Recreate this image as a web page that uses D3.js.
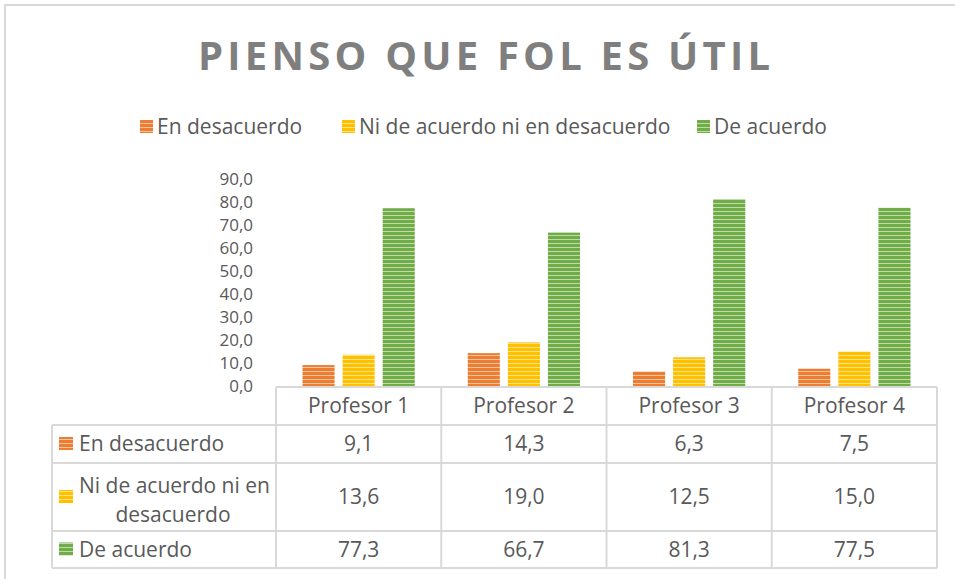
<!DOCTYPE html>
<html>
<head>
<meta charset="utf-8">
<script src="https://cdn.jsdelivr.net/npm/d3@7"></script>
<style>
    body { margin: 0; background: #ffffff; }
    svg { display: block; font-family: "Open Sans", sans-serif; }
</style>
</head>
<body>
<svg id="svg"></svg>
<script>
// Chart data
const categories = ["Profesor 1", "Profesor 2", "Profesor 3", "Profesor 4"];
const seriesNames = ["En desacuerdo", "Ni de acuerdo ni en desacuerdo", "De acuerdo"];
const enDesacuerdo = [9.1, 14.3, 6.3, 7.5];
const niNi = [13.6, 19.0, 12.5, 15.0];
const deAcuerdo = [77.3, 66.7, 81.3, 77.5];
const yTicks = [0, 10, 20, 30, 40, 50, 60, 70, 80, 90];
const colors = ["#ED7D31", "#FFC000", "#70AD47"];

const seriesValues = [enDesacuerdo, niNi, deAcuerdo];

// SVG size
let width = 955, height = 579;
const textColor = "#595959";
const lineColor = "#d9d9d9";
const fontSize = 21;

const svg = d3.select("#svg").attr("width", width).attr("height", height);

// Striped fill patterns
const defs = svg.append("defs");
colors.forEach((c, i) => {
    const p = defs.append("pattern")
        .attr("id", "stripe" + i)
        .attr("patternUnits", "userSpaceOnUse")
        .attr("width", 8)
        .attr("height", 4);
    p.append("rect").attr("width", 8).attr("height", 4).attr("fill", c);
    p.append("rect").attr("y", 3).attr("width", 8).attr("height", 1)
        .attr("fill", "#ffffff").attr("opacity", 0.55);
});

// Outer border
svg.append("rect")
    .attr("x", 5).attr("y", 5)
    .attr("width", width).attr("height", height)
    .attr("fill", "none")
    .attr("stroke", lineColor)
    .attr("stroke-width", 2);

// Title
svg.append("text")
    .attr("x", 484).attr("y", 70)
    .attr("text-anchor", "middle")
    .attr("font-size", 40)
    .attr("font-weight", "bold")
    .attr("fill", "#7f7f7f")
    .attr("textLength", 572)
    .attr("lengthAdjust", "spacing")
    .text("PIENSO QUE FOL ES ÚTIL");

// Legend
const legendX = [140, 342, 697];
seriesNames.forEach((name, i) => {
    const g = svg.append("g").attr("transform", "translate(" + legendX[i] + ",120)");
    g.append("rect").attr("width", 13).attr("height", 13).attr("fill", "url(#stripe" + i + ")");
    g.append("text")
        .attr("x", 17).attr("y", 14)
        .attr("font-size", fontSize)
        .attr("fill", textColor)
        .text(name);
});

// Scales
const x = d3.scaleBand().domain(categories).range([276, 937]);
const xInner = d3.scaleBand().domain(d3.range(3))
    .range([26.5, x.bandwidth() - 26.5])
    .paddingInner(0.2);
const y = d3.scaleLinear().domain([0, 90]).range([386, 179]);

// Y axis labels
const yAxis = d3.axisLeft(y)
    .tickValues(yTicks)
    .tickSize(0)
    .tickPadding(0)
    .tickFormat(d => d3.format(".1f")(d).replace(".", ","));

svg.append("g")
    .attr("transform", "translate(253,0)")
    .call(yAxis)
    .call(g => g.select(".domain").remove())
    .call(g => g.selectAll("text")
        .attr("font-family", "Open Sans")
        .attr("font-size", 17)
        .attr("fill", textColor));

// Bars
seriesValues.forEach((vals, s) => {
    svg.append("g")
        .selectAll("rect")
        .data(vals)
        .enter()
        .append("rect")
        .attr("x", (d, i) => x(categories[i]) + xInner(s))
        .attr("y", d => y(d))
        .attr("width", xInner.bandwidth())
        .attr("height", d => y(0) - y(d))
        .attr("fill", "url(#stripe" + s + ")");
});

// Data table
const tableLeft = 52, colLeft = 276, tableRight = 937;
const rowTops = [387, 425, 463, 531, 568];
const grid = svg.append("g")
    .attr("stroke", lineColor)
    .attr("stroke-width", 2)
    .attr("fill", "none");

// horizontal lines
grid.append("line").attr("x1", colLeft).attr("x2", tableRight).attr("y1", rowTops[0]).attr("y2", rowTops[0]);
rowTops.slice(1).forEach(yy => {
    grid.append("line").attr("x1", tableLeft).attr("x2", tableRight).attr("y1", yy).attr("y2", yy);
});
// vertical lines
grid.append("line").attr("x1", tableLeft).attr("x2", tableLeft).attr("y1", rowTops[1]).attr("y2", rowTops[4]);
categories.forEach(c => {
    grid.append("line").attr("x1", x(c)).attr("x2", x(c)).attr("y1", rowTops[0]).attr("y2", rowTops[4]);
});
grid.append("line").attr("x1", tableRight).attr("x2", tableRight).attr("y1", rowTops[0]).attr("y2", rowTops[4]);

// header row
svg.append("g")
    .selectAll("text")
    .data(categories)
    .enter()
    .append("text")
    .attr("x", d => x(d) + x.bandwidth() / 2)
    .attr("y", (rowTops[0] + rowTops[1]) / 2 + 7)
    .attr("text-anchor", "middle")
    .attr("font-size", fontSize)
    .attr("fill", textColor)
    .text(d => d);

// series rows
seriesValues.forEach((vals, s) => {
    const top = rowTops[s + 1], bottom = rowTops[s + 2];
    const mid = (top + bottom) / 2;

    svg.append("rect")
        .attr("x", 59).attr("y", mid - 7)
        .attr("width", 14).attr("height", 13)
        .attr("fill", "url(#stripe" + s + ")");

    if (s === 1) {
        svg.append("text")
            .attr("x", 79).attr("y", mid - 4)
            .attr("font-size", fontSize).attr("fill", textColor)
            .text("Ni de acuerdo ni en");
        svg.append("text")
            .attr("x", 173).attr("y", mid + 25)
            .attr("text-anchor", "middle")
            .attr("font-size", fontSize).attr("fill", textColor)
            .text("desacuerdo");
    } else {
        svg.append("text")
            .attr("x", 79).attr("y", mid + 7)
            .attr("font-size", fontSize).attr("fill", textColor)
            .text(seriesNames[s]);
    }

    svg.append("g")
        .selectAll("text")
        .data(vals)
        .enter()
        .append("text")
        .attr("x", (d, i) => x(categories[i]) + x.bandwidth() / 2)
        .attr("y", mid + 7)
        .attr("text-anchor", "middle")
        .attr("font-size", fontSize)
        .attr("fill", textColor)
        .text(d => d3.format(".1f")(d).replace(".", ","));
});
</script>
</body>
</html>
